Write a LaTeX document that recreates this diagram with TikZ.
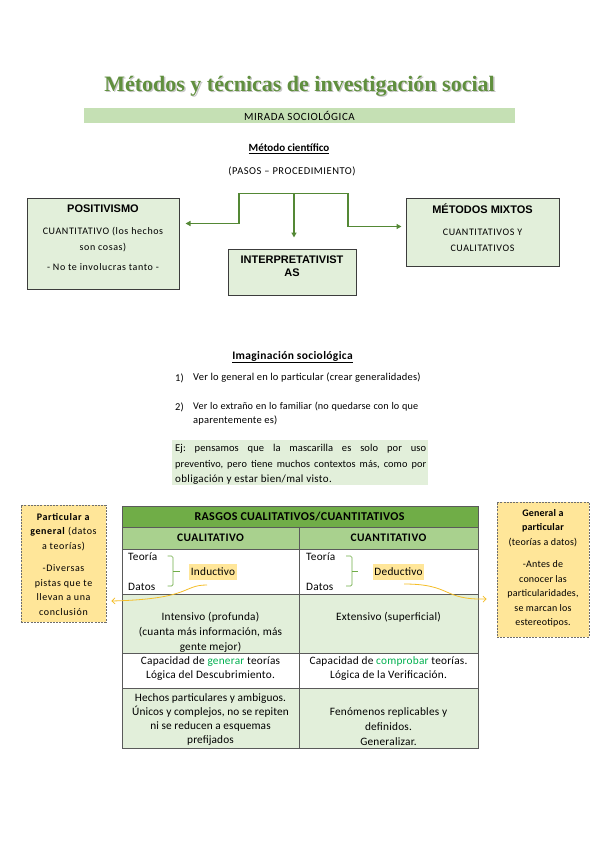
\documentclass[tikz,border=0pt]{standalone}
\usepackage{fontspec}
\setmainfont{Carlito}
\newfontfamily\arialf{Liberation Sans}
\newfontfamily\titlef{Liberation Serif}
\usetikzlibrary{arrows.meta}
\frenchspacing
\definecolor{titlegreen}{RGB}{96,143,62}
\definecolor{barfill}{RGB}{197,224,180}
\definecolor{boxfill}{RGB}{226,239,218}
\definecolor{boxborder}{RGB}{60,60,60}
\definecolor{conngreen}{RGB}{84,136,53}
\definecolor{hdrgreen}{RGB}{112,173,71}
\definecolor{subgreen}{RGB}{169,209,142}
\definecolor{notefill}{RGB}{255,230,153}
\definecolor{notedash}{RGB}{110,110,110}
\definecolor{gold}{RGB}{245,190,40}
\definecolor{wordgreen}{RGB}{0,176,80}
\definecolor{gridline}{RGB}{90,90,90}
\newcommand{\ls}[1]{\addfontfeature{LetterSpace=#1}}
\tikzset{
  txt/.style={inner sep=0pt, font=\fontsize{10.5}{14}\selectfont\ls{2}},
  cell/.style={inner sep=0pt, align=center, font=\fontsize{11.3}{14.5}\selectfont\ls{2}},
  mbox/.style={draw=boxborder, fill=boxfill, line width=1pt, inner sep=0pt},
  boxhead/.style={inner sep=0pt, font=\arialf\bfseries\fontsize{11}{12.5}\selectfont},
  boxtxt/.style={inner sep=0pt, align=center, font=\fontsize{10}{16}\selectfont\ls{6}},
  conn/.style={draw=conngreen, line width=1.5pt},
  arr/.style={conn, -{Triangle[length=5pt,width=5pt]}},
  notebox/.style={draw=notedash, fill=notefill, line width=0.9pt, dash pattern=on 2pt off 1.2pt, inner sep=0pt},
  notetxt/.style={inner sep=0pt, align=center, font=\fontsize{10}{14.5}\selectfont\ls{6}},
  notetxtr/.style={inner sep=0pt, align=center, font=\fontsize{10}{14.5}\selectfont\ls{2}},
  curvearr/.style={draw=gold, line width=0.8pt, -{Straight Barb[length=3pt,width=6pt]}},
  brace/.style={draw=hdrgreen, line width=0.7pt, rounded corners=1.5pt},
  hl/.style={fill=notefill, inner sep=0pt}
}
\begin{document}
\begin{tikzpicture}[x=1pt,y=-1pt]
\fill[white] (0,0) rectangle (599,848);
\useasboundingbox (0,0) rectangle (599,848);

% title
\node[font=\titlef\bfseries\fontsize{22}{26}\selectfont, text=black!22, inner sep=0pt] (titleshadow) at (300.9,86.9) {Métodos y técnicas de investigación social};
\node[font=\titlef\bfseries\fontsize{22}{26}\selectfont, text=titlegreen, inner sep=0pt] (title) at (299.5,86) {Métodos y técnicas de investigación social};

% bar
\fill[barfill] (84,108) rectangle (515,123);
\node[txt, font=\fontsize{11}{12}\selectfont\ls{5}] (mirada) at (299.5,115.5) {MIRADA SOCIOLÓGICA};

\node[txt, font=\bfseries\fontsize{11}{12}\selectfont] (metodo) at (289,149) {\underline{Método científico}};
\node[txt, font=\fontsize{10.5}{12}\selectfont\ls{5}] (pasos) at (292,171) {(PASOS – PROCEDIMIENTO)};

% boxes
\node[mbox, minimum width=152pt, minimum height=91pt] (pos) at (103,243.5) {};
\node[boxhead] (posh) at (103,209) {POSITIVISMO};
\node[boxtxt] (post) at (103,240) {CUANTITATIVO (los hechos\\son cosas)};
\node[boxtxt] (posn) at (103,267) {- No te involucras tanto -};

\node[mbox, minimum width=128pt, minimum height=46pt] (interp) at (292,272) {};
\node[boxhead, align=center] (interpt) at (292,266) {INTERPRETATIVIST\\AS};

\node[mbox, minimum width=153pt, minimum height=68pt] (mix) at (482.5,232) {};
\node[boxhead] (mixh) at (482.5,209) {MÉTODOS MIXTOS};
\node[boxtxt] (mixt) at (482.5,240) {CUANTITATIVOS Y\\CUALITATIVOS};

% connectors
\coordinate (tl) at (239,193.5);
\coordinate (tm) at (294,193.5);
\coordinate (tr) at (348,193.5);
\coordinate (lbend) at (239,223.5);
\coordinate (rbend) at (348,226.5);
\draw[conn, line cap=rect] (tl) -- (tr);
\draw[arr, shorten >=6pt] (tl) -- (lbend) -- (lbend -| pos.east);
\draw[arr, shorten >=11pt] (tm) -- (tm |- interp.north);
\draw[arr, shorten >=4pt] (tr) -- (rbend) -- (rbend -| mix.west);

% imaginacion
\node[txt, font=\bfseries\fontsize{11.5}{13}\selectfont\ls{3}] (imag) at (292.5,357) {\underline{Imaginación sociológica}};
\node[txt, anchor=west] (n1) at (175,378) {1)};
\node[txt, anchor=west] (l1) at (193,378) {Ver lo general en lo particular (crear generalidades)};
\node[txt, anchor=west] (n2) at (175,407) {2)};
\node[txt, anchor=west, font=\fontsize{10.2}{14}\selectfont\ls{1}] (l2) at (193,407) {\makebox[225pt][s]{Ver lo extraño en lo familiar (no quedarse con lo que}};
\node[txt, anchor=west] (l2b) at (193,421) {aparentemente es)};

\fill[boxfill] (172,440) rectangle (428,485);
\node[txt, anchor=west, font=\fontsize{10.5}{14}\selectfont\ls{1}] (ej1) at (175,449) {\makebox[251pt][s]{Ej: pensamos que la mascarilla es solo por uso}};
\node[txt, anchor=west, font=\fontsize{10.3}{14}\selectfont\ls{1}] (ej2) at (175,465) {\makebox[251pt][s]{preventivo, pero tiene muchos contextos más, como por}};
\node[txt, anchor=west, font=\fontsize{11}{14}\selectfont\ls{3}] (ej3) at (175,480) {obligación y estar bien/mal visto.};

% table fills
\fill[hdrgreen] (122,506) rectangle (478,527);
\fill[subgreen] (122,527) rectangle (478,549);
\fill[boxfill] (122,594) rectangle (478,653);
\fill[boxfill] (122,688) rectangle (478,748);
% table lines
\draw[gridline, line width=0.8pt] (122,506) rectangle (478,748);
\foreach \yy in {527,549,594,653,688} \draw[gridline, line width=0.8pt] (122,\yy) -- (478,\yy);
\draw[gridline, line width=0.8pt] (299,527) -- (299,748);

\node[cell, font=\bfseries\fontsize{12}{13}\selectfont\ls{3}] (th) at (299.5,516.5) {RASGOS CUALITATIVOS/CUANTITATIVOS};
\node[cell, font=\bfseries\fontsize{11.5}{13}\selectfont\ls{4}] (thl) at (210.5,538) {CUALITATIVO};
\node[cell, font=\bfseries\fontsize{11.5}{13}\selectfont\ls{4}] (thr) at (388.5,538) {CUANTITATIVO};

% row 3
\node[cell, anchor=west] (teol) at (128,557) {Teoría};
\node[cell, anchor=west] (datl) at (128,587) {Datos};
\draw[brace] (167.5,556) -- (173,556) -- (173,586) -- (167.5,586);
\draw[brace, rounded corners=0pt] (173,571) -- (179.5,571);
\node[hl, minimum width=48pt, minimum height=16pt] (indhl) at (213,572) {};
\node[cell] (ind) at (213,572) {Inductivo};

\node[cell, anchor=west] (teor) at (306,557) {Teoría};
\node[cell, anchor=west] (datr) at (306,587) {Datos};
\draw[brace] (346,556) -- (352,556) -- (352,586) -- (346,586);
\draw[brace, rounded corners=0pt] (352,571) -- (358,571);
\node[hl, minimum width=51pt, minimum height=16pt] (dedhl) at (398.5,572) {};
\node[cell] (ded) at (398.5,572) {Deductivo};

% rows
\node[cell, font=\fontsize{11.3}{15}\selectfont\ls{2}] (r4l) at (210.5,632) {Intensivo (profunda)\\(cuanta más información, más\\gente mejor)};
\node[cell] (r4r) at (388.5,617) {Extensivo (superficial)};
\node[cell, font=\fontsize{11.3}{14}\selectfont\ls{2}] (r5l) at (210.5,669) {Capacidad de \textcolor{wordgreen}{generar} teorías\\Lógica del Descubrimiento.};
\node[cell, font=\fontsize{11.3}{14}\selectfont\ls{2}] (r5r) at (388.5,669) {Capacidad de \textcolor{wordgreen}{comprobar} teorías.\\Lógica de la Verificación.};
\node[cell, font=\fontsize{11.3}{14.3}\selectfont\ls{1}] (r6l) at (210.5,719.5) {Hechos particulares y ambiguos.\\Únicos y complejos, no se repiten\\ni se reducen a esquemas\\prefijados};
\node[cell, font=\fontsize{11.3}{15}\selectfont\ls{2}] (r6r) at (388.5,727) {Fenómenos replicables y\\definidos.\\Generalizar.};

% note boxes
\node[notebox, minimum width=85pt, minimum height=117pt] (noteL) at (63.5,563.5) {};
\node[notetxt] (noteLa) at (63.5,532) {\textbf{Particular a}\\\textbf{general} (datos\\a teorías)};
\node[notetxt] (noteLb) at (63.5,590) {-Diversas\\pistas que te\\llevan a una\\conclusión};

\node[notebox, minimum width=92pt, minimum height=135pt] (noteR) at (543,569.5) {};
\node[notetxtr] (noteRa) at (543,528) {\textbf{General a}\\\textbf{particular}\\(teorías a datos)};
\node[notetxtr] (noteRb) at (543,594) {-Antes de\\conocer las\\particularidades,\\se marcan los\\estereotipos.};

% curved arrows
\coordinate (cl) at (207,585);
\coordinate (cr) at (404,584);
\draw[curvearr] (cl) .. controls (182,585) and (192,599) .. ([xshift=5pt]noteL.east |- 0,601);
\draw[curvearr] (cr) .. controls (452,584) and (442,600) .. ([xshift=-10pt]noteR.west |- 0,599);
\end{tikzpicture}
\end{document}
